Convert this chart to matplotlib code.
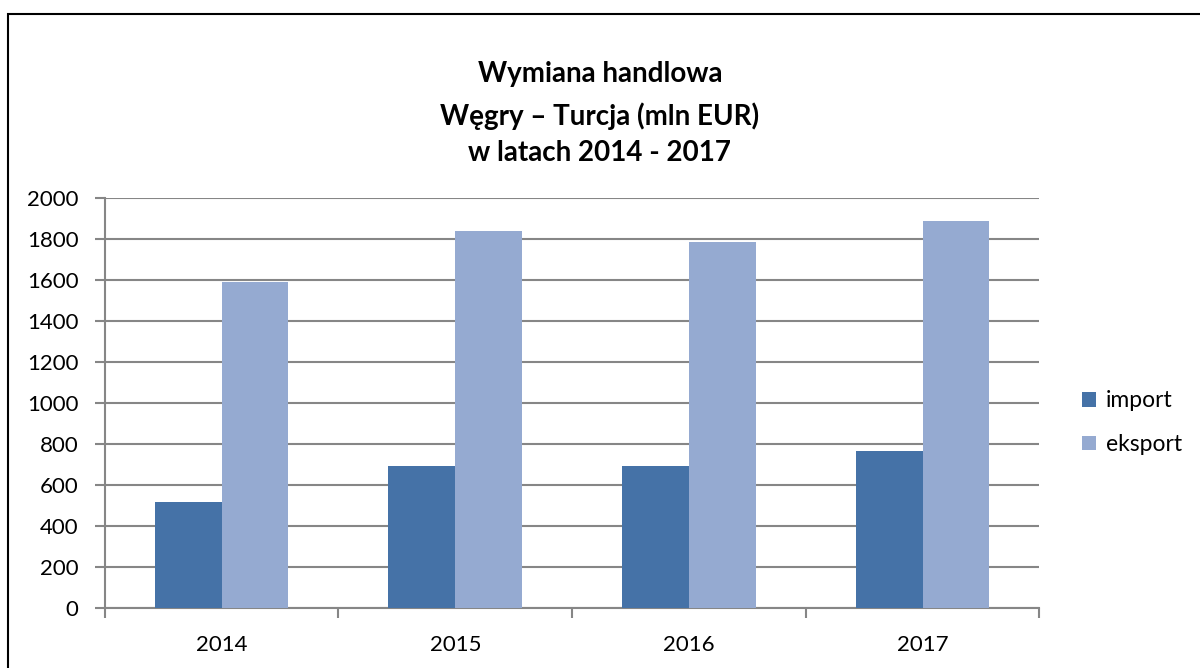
import matplotlib.pyplot as plt
from matplotlib.patches import Rectangle
import numpy as np

plt.rcParams['font.family'] = ['Lato', 'DejaVu Sans']

# Data
years = ['2014', '2015', '2016', '2017']
import_vals = [520, 692, 694, 767]
export_vals = [1590, 1840, 1786, 1885]

c_import = '#4572A7'
c_export = '#95AAD1'
grid_col = '#868686'

fig = plt.figure(figsize=(12, 6.68), dpi=100)
ax = fig.add_axes([0.0873, 0.0894, 0.7789, 0.6147])

x = np.arange(len(years))
w = 0.286
ax.bar(x - w / 2, import_vals, w, color=c_import, label='import', zorder=3)
ax.bar(x + w / 2, export_vals, w, color=c_export, label='eksport', zorder=3)

ax.set_xlim(-0.5, len(years) - 0.5)
ax.set_ylim(0, 2000)
ax.set_yticks(range(0, 2001, 200))
ax.yaxis.grid(True, color=grid_col, linewidth=1.5, zorder=0)

# category labels in the middle, ticks on the boundaries
ax.set_xticks(x)
ax.set_xticklabels(years, fontsize=16)
ax.set_xticks(np.arange(-0.5, len(years)), minor=True)
ax.tick_params(axis='x', which='major', length=0, pad=19)
ax.tick_params(axis='x', which='minor', length=7, width=1.5, color=grid_col)
ax.tick_params(axis='y', length=7, width=1.5, color=grid_col, labelsize=16, pad=12)

for s in ['top', 'right']:
    ax.spines[s].set_visible(False)
for s in ['left', 'bottom']:
    ax.spines[s].set_color(grid_col)
    ax.spines[s].set_linewidth(1.5)

ax.legend(loc='center left', bbox_to_anchor=(1.0457, 0.452), frameon=False,
          fontsize=16.5, handlelength=0.62, handleheight=0.62, borderpad=0,
          borderaxespad=0, handletextpad=0.4, labelspacing=1.0)

fig.text(0.5, 1 - 74 / 668, 'Wymiana handlowa', ha='center', va='center',
         fontsize=20, fontweight='bold')
fig.text(0.5, 1 - 116 / 668, 'Węgry – Turcja (mln EUR)', ha='center', va='center',
         fontsize=20, fontweight='bold')
fig.text(0.5, 1 - 153 / 668, 'w latach 2014 - 2017', ha='center', va='center',
         fontsize=20, fontweight='bold')

# outer frame
fig.patches.append(Rectangle((8 / 1200, -0.01), 1.0, 1 - 14 / 668 + 0.01,
                             transform=fig.transFigure, fill=False,
                             edgecolor='black', linewidth=1.5))

fig.savefig('out.png', dpi=100)
